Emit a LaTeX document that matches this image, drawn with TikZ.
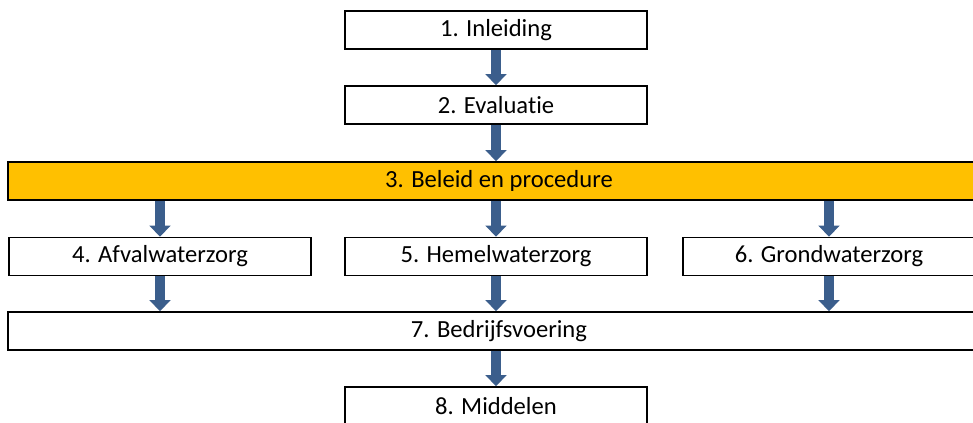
\documentclass[tikz,border=0pt]{standalone}
\usepackage{fontspec}
\setmainfont{Carlito}[Ligatures=NoCommon]
\usetikzlibrary{arrows.meta}
\definecolor{stepyellow}{RGB}{255,192,0}
\definecolor{stepblue}{RGB}{59,94,140}
\tikzset{
  chapter/.style={draw=black, line width=1.4pt, fill=white, inner sep=0pt,
    minimum width=9.06cm, minimum height=1.14cm,
    font=\fontsize{21}{25}\selectfont},
  widechapter/.style={chapter, minimum width=29.46cm},
  flowarrow/.style={draw=stepblue, line width=0.3cm,
    -{Triangle[width=0.62cm,length=0.33cm]}}
}
\begin{document}
\begin{tikzpicture}[x=0.03cm, y=-0.03cm]
		%%%%% START %%%%%
		\useasboundingbox (0, 0) rectangle (973, 423);
		\clip (0, 0) rectangle (973, 423);
		
		\node[chapter] (inleiding) at (496, 30) {1. Inleiding};
		\node[chapter] (evaluatie) at (496, 105) {2. Evaluatie};
		\node[widechapter, fill=stepyellow] (beleid) at (499, 181) {3. Beleid en procedure};
		
		\node[chapter] (afval) at (160, 256.5) {4. Afvalwaterzorg};
		\node[chapter] (hemel) at (496, 256.5) {5. Hemelwaterzorg};
		\node[chapter, minimum width=8.76cm] (grond) at (829, 256.5) {6. Grondwaterzorg};
		
		\node[widechapter] (bedrijf) at (499, 331) {7. Bedrijfsvoering};
		\node[chapter] (middelen) at (496, 406) {8. Middelen};
		
		\draw[flowarrow] (inleiding) -- (evaluatie);
		\draw[flowarrow] (evaluatie) -- (evaluatie |- beleid.north);
		\foreach \col in {afval, hemel, grond} {
			\draw[flowarrow] (beleid.south -| \col) -- (\col.north);
			\draw[flowarrow] (\col) -- (\col |- bedrijf.north);
		}
		\draw[flowarrow] (bedrijf.south -| middelen) -- (middelen);
		%%%%% END %%%%%
\end{tikzpicture}
\end{document}
